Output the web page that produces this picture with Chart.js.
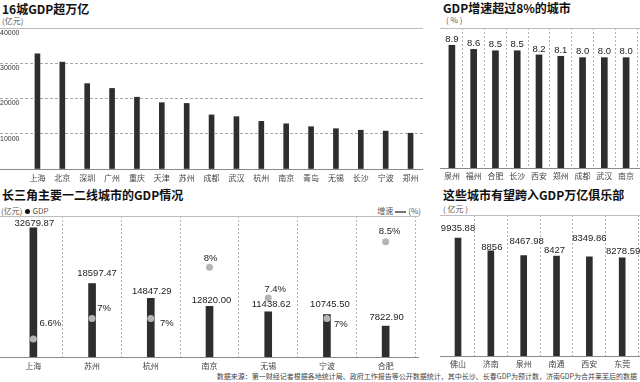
<!DOCTYPE html>
<html><head><meta charset="utf-8">
<script src="https://cdn.jsdelivr.net/npm/chart.js@4"></script>
<style>
html,body{margin:0;padding:0;background:#fff;}
#wrap{position:relative;width:640px;height:382px;overflow:hidden;font-family:"Noto Sans CJK SC",sans-serif;}
canvas{position:absolute;}
.t{position:absolute;white-space:nowrap;color:#111;}
.title{font-size:12px;font-weight:bold;line-height:12px;}
.unit{font-size:8px;line-height:8px;color:#555;}
.foot{font-size:7px;line-height:7px;color:#444;}
.dot{display:inline-block;width:5px;height:5px;border-radius:50%;background:#111;vertical-align:middle;margin:0 2px 0 3px;}
.dash{display:inline-block;width:11px;height:2px;background:#777;vertical-align:middle;margin:0 2px;}
</style></head>
<body><div id="wrap">
<div class="t title" style="left:2px;top:3px">16城GDP超万亿</div>
<div class="t unit" style="left:2px;top:17px">(亿元)</div>
<div class="t title" style="left:443px;top:2px">GDP增速超过8%的城市</div>
<div class="t unit" style="left:446px;top:16px">( % )</div>
<div class="t title" style="left:2px;top:189px">长三角主要一二线城市的GDP情况</div>
<div class="t unit" style="left:1px;top:207px">(亿元)<span class="dot"></span>GDP</div>
<div class="t unit" style="right:219px;top:207px">增速<span class="dash"></span>(%)</div>
<div class="t title" style="left:443px;top:189px">这些城市有望跨入GDP万亿俱乐部</div>
<div class="t unit" style="left:443px;top:205px">( 亿元 )</div>
<canvas id="c1" width="423" height="166" style="left:0;top:20px"></canvas>
<canvas id="c2" width="200" height="166" style="left:440px;top:20px"></canvas>
<canvas id="c3" width="419" height="160" style="left:0;top:210px"></canvas>
<canvas id="c4" width="200" height="160" style="left:440px;top:210px"></canvas>
<div class="t foot" style="right:3px;top:373px">数据来源：第一财经记者根据各地统计局、政府工作报告等公开数据统计，其中长沙、长春GDP为预计数，济南GDP为合并莱芜后的数据</div>
</div>
<script>
// ---- data ----
const cities16 = ['上海','北京','深圳','广州','重庆','天津','苏州','成都','武汉','杭州','南京','青岛','无锡','长沙','宁波','郑州'];
const gdp16 = [32680, 30320, 24222, 22859, 20363, 18810, 18597, 15343, 14847, 13509, 12820, 12002, 11439, 11003, 10746, 10143];
const yTicks16 = [0, 10000, 20000, 30000, 40000];

const citiesGrowth = ['泉州','福州','合肥','长沙','西安','郑州','成都','武汉','南京'];
const growthRates = [8.9, 8.6, 8.5, 8.5, 8.2, 8.1, 8.0, 8.0, 8.0];

const citiesYRD = ['上海','苏州','杭州','南京','无锡','宁波','合肥'];
const gdpYRD = [32679.87, 18597.47, 14847.29, 12820.00, 11438.62, 10745.50, 7822.90];
const growthYRD = [6.6, 7, 7, 8, 7.4, 7, 8.5];

const citiesNext = ['佛山','济南','泉州','南通','西安','东莞'];
const gdpNext = [9935.88, 8856, 8467.98, 8427, 8349.86, 8278.59];

// ---- styles ----
const BAR = '#2e2e2e';
const NUM = '"Liberation Sans Narrow","Liberation Sans",Arial,sans-serif';
const CJK = '"Noto Sans CJK SC",sans-serif';
const CLEAR = 'rgba(0,0,0,0)';
Chart.defaults.animation = false;
Chart.defaults.font.family = CJK;
Chart.defaults.plugins.legend.display = false;
Chart.defaults.plugins.tooltip.enabled = false;

const rules = (o) => ({
  id: 'rules',
  beforeDatasetsDraw(chart) {
    const y = chart.scales.y, ctx = chart.ctx;
    ctx.save(); ctx.lineWidth = 1;
    [[y.max, o.top], [y.min, o.base]].forEach(([v, c]) => {
      const py = Math.round(y.getPixelForValue(v)) + 0.5;
      ctx.strokeStyle = c; ctx.beginPath(); ctx.moveTo(o.x0 || 0, py); ctx.lineTo(chart.width, py); ctx.stroke();
    });
    ctx.restore();
  }
});
const vlabels = (specs) => ({
  id: 'vlabels',
  afterDatasetsDraw(chart) {
    const ctx = chart.ctx;
    specs.forEach(sp => {
      const meta = chart.getDatasetMeta(sp.ds);
      const data = chart.data.datasets[sp.ds].data;
      ctx.save(); ctx.font = sp.font; ctx.fillStyle = sp.color;
      ctx.textAlign = 'center'; ctx.textBaseline = 'middle';
      meta.data.forEach((el, i) => {
        const dx = Array.isArray(sp.dx) ? sp.dx[i] : (sp.dx || 0);
        const dy = Array.isArray(sp.dy) ? sp.dy[i] : (sp.dy || 0);
        ctx.fillText(sp.fmt(data[i]), el.x + dx, el.y + dy);
      });
      ctx.restore();
    });
  }
});
const sepColor = (n) => (c) => (c.index === 0 || c.index >= n) ? CLEAR : '#b0b0b0';
const xCat = (n, h, pad) => ({
  grid: { display: true, offset: true, drawTicks: false, color: sepColor(n) },
  border: { display: false, dash: [2, 2] },
  ticks: { font: { size: 8 }, color: '#444', padding: pad, maxRotation: 0, autoSkip: false },
  afterFit: s => { s.height = h; }
});

// ---- chart 1 ----
const gc1 = c => (c.tick && (c.tick.value === yTicks16[0] || c.tick.value === yTicks16[yTicks16.length - 1])) ? CLEAR : '#a8a8a8';
new Chart(document.getElementById('c1'), {
  type: 'bar',
  data: { labels: cities16, datasets: [{ data: gdp16, backgroundColor: BAR, barThickness: 5 }] },
  options: {
    responsive: false,
    layout: { padding: { top: 8, left: 0, right: 0, bottom: 0 } },
    scales: {
      x: { grid: { display: false, drawTicks: false }, border: { display: false },
           ticks: { font: { size: 8 }, color: '#444', padding: 4, maxRotation: 0, autoSkip: false },
           afterFit: s => { s.height = 17; } },
      y: { min: yTicks16[0], max: yTicks16[yTicks16.length - 1],
           border: { display: false, dash: [3, 2] },
           grid: { color: gc1, tickColor: gc1, tickLength: 25, tickBorderDash: [3, 2] },
           afterBuildTicks: s => { s.ticks = yTicks16.map(v => ({ value: v })); },
           ticks: { crossAlign: 'far', labelOffset: 5, font: { size: 7, family: NUM }, color: '#333',
                    callback: v => v === 0 ? '' : String(v) },
           afterFit: s => { s.width = 25; } }
    }
  },
  plugins: [rules({ top: '#bdbdbd', base: '#8a8a8a' })]
});

// ---- chart 2 ----
new Chart(document.getElementById('c2'), {
  type: 'bar',
  data: { labels: citiesGrowth, datasets: [{ data: growthRates, backgroundColor: BAR, barThickness: 6 }] },
  options: {
    responsive: false,
    layout: { padding: { top: 8, left: 1, right: 3, bottom: 0 } },
    scales: {
      x: xCat(citiesGrowth.length, 18, 3),
      y: { display: false, min: 0, max: 10.15 }
    }
  },
  plugins: [rules({ top: '#bdbdbd', base: '#8a8a8a' }),
            vlabels([{ ds: 0, fmt: v => v.toFixed(1), dy: -6, font: '9.5px ' + NUM, color: '#222' }])]
});

// ---- chart 3 ----
new Chart(document.getElementById('c3'), {
  data: { labels: citiesYRD, datasets: [
    { type: 'bar', data: gdpYRD, backgroundColor: BAR, barThickness: 7, yAxisID: 'y', order: 2 },
    { type: 'line', data: growthYRD, showLine: false, pointRadius: 3.5, pointBackgroundColor: '#b4b4b4',
      pointBorderWidth: 0, borderColor: CLEAR, yAxisID: 'y2', order: 1 }
  ] },
  options: {
    responsive: false,
    layout: { padding: { top: 6, left: 2, right: 0, bottom: 0 } },
    scales: {
      x: xCat(citiesYRD.length, 13, 4),
      y: { display: false, min: 0, max: 35700 },
      y2: { display: false, min: 6.25, max: 9.0 }
    }
  },
  plugins: [rules({ top: '#bdbdbd', base: '#8a8a8a' }),
            vlabels([
              { ds: 0, fmt: v => v.toFixed(2), dx: [1, 5, 1, 2, 3, 3, 1], dy: [-5, -10, -7, -6, -7, -10, -9], font: '9.5px ' + NUM, color: '#222' },
              { ds: 1, fmt: v => v + '%', dx: [17, 12, 16, 1, 7, 14, 4], dy: [-16, -10, 5, -9, -9, 6, -10], font: '9.5px ' + NUM, color: '#222' }
            ])]
});

// ---- chart 4 ----
new Chart(document.getElementById('c4'), {
  type: 'bar',
  data: { labels: citiesNext, datasets: [{ data: gdpNext, backgroundColor: BAR, barThickness: 6 }] },
  options: {
    responsive: false,
    layout: { padding: { top: 5, left: 1.6, right: 1.4, bottom: 0 } },
    scales: {
      x: xCat(citiesNext.length, 14, 3),
      y: { display: false, min: 0, max: 11880 }
    }
  },
  plugins: [rules({ top: '#bdbdbd', base: '#8a8a8a' }),
            vlabels([{ ds: 0, fmt: v => String(v), dx: [0, 1, 3, -2, 0, 1], dy: [-10, -4, -14, -6, -19, -6], font: '9.5px ' + NUM, color: '#222' }])]
});
</script>
</body></html>
